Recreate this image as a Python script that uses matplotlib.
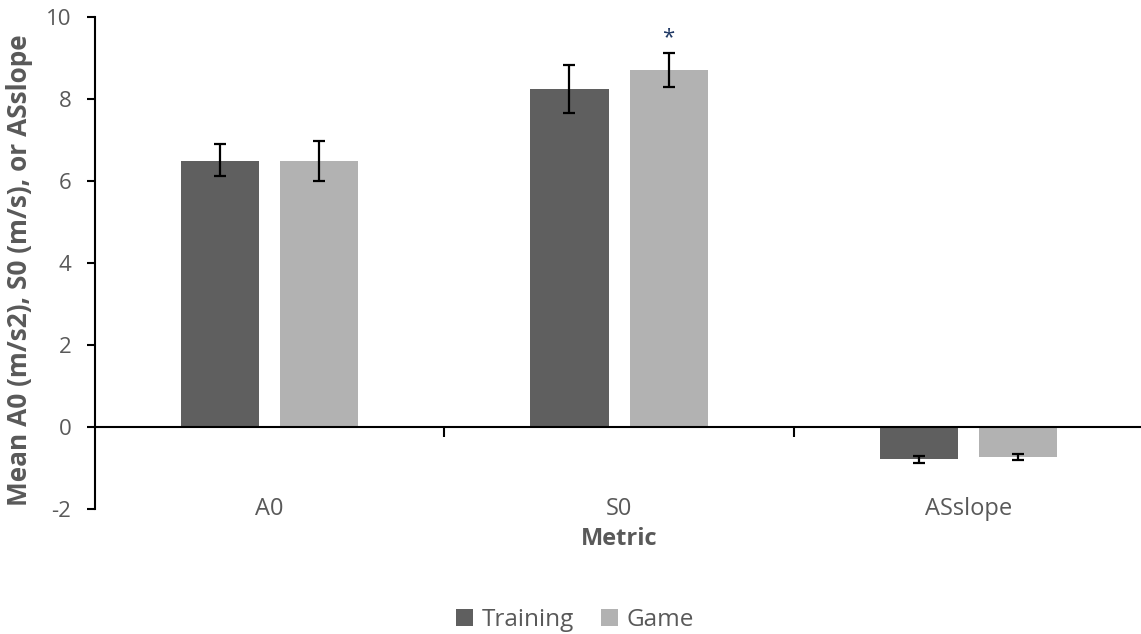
import matplotlib.pyplot as plt
import numpy as np

plt.rcParams['font.family'] = ['Open Sans', 'DejaVu Sans']

# data
metrics = ['A0', 'S0', 'ASslope']
training = [6.50, 8.24, -0.78]
training_err_lo = [0.38, 0.58, 0.10]
training_err_hi = [0.40, 0.60, 0.08]
game = [6.48, 8.70, -0.73]
game_err_lo = [0.48, 0.41, 0.08]
game_err_hi = [0.49, 0.41, 0.08]
yticks = [-2, 0, 2, 4, 6, 8, 10]

text_col = '#595959'
fig = plt.figure(figsize=(11.41, 6.34), dpi=100)
ax = fig.add_axes([0.0833, 0.197, 0.9185, 0.7762])

x = np.arange(len(metrics))
w = 0.224
off = 0.142
err_kw = dict(ecolor='black', elinewidth=1.6, capsize=4.3, capthick=1.6)

ax.bar(x - off, training, w, color='#5f5f5f', label='Training',
       yerr=[training_err_lo, training_err_hi], error_kw=err_kw, zorder=2)
ax.bar(x + off, game, w, color='#b2b2b2', label='Game',
       yerr=[game_err_lo, game_err_hi], error_kw=err_kw, zorder=2)

# significance marker over S0 game bar
ax.text(x[1] + off, game[1] + game_err_hi[1] + 0.12, '*', ha='center', va='bottom',
        color='#1f3864', fontsize=16)

ax.set_xlim(-0.5, 2.5)
ax.set_ylim(-2, 10)
ax.set_yticks(yticks)
ax.set_yticklabels([str(v) for v in yticks])

for s in ['top', 'right']:
    ax.spines[s].set_visible(False)
ax.spines['left'].set_linewidth(1.5)
ax.spines['bottom'].set_position(('data', 0))
ax.spines['bottom'].set_linewidth(1.5)
ax.spines['bottom'].set_zorder(3)

ax.tick_params(axis='y', direction='out', length=6, width=1.5, labelsize=16,
               labelcolor=text_col, pad=11)
ax.set_xticks([0.5, 1.5])
ax.set_xticklabels([])
ax.tick_params(axis='x', direction='out', length=7, width=1.5)

# category labels sit at the bottom of the plot, not on the zero line
for xi, name in zip(x, metrics):
    ax.text(xi, -2, name, ha='center', va='center', fontsize=17, color=text_col)

ax.text(1, -2.72, 'Metric', ha='center', va='center', fontsize=17,
        fontweight='bold', color=text_col)
ax.set_ylabel('Mean A0 (m/s2), S0 (m/s), or ASslope', fontsize=18.9,
              fontweight='bold', color=text_col)
ax.yaxis.set_label_coords(-0.059, 0.485)

leg = fig.legend(loc='center', bbox_to_anchor=(0.504, 0.022), ncol=2, frameon=False,
                 fontsize=17.5, handlelength=0.7, handleheight=0.7,
                 handletextpad=0.37, columnspacing=1.07)
for t in leg.get_texts():
    t.set_color(text_col)

fig.savefig('out.png', dpi=100)
